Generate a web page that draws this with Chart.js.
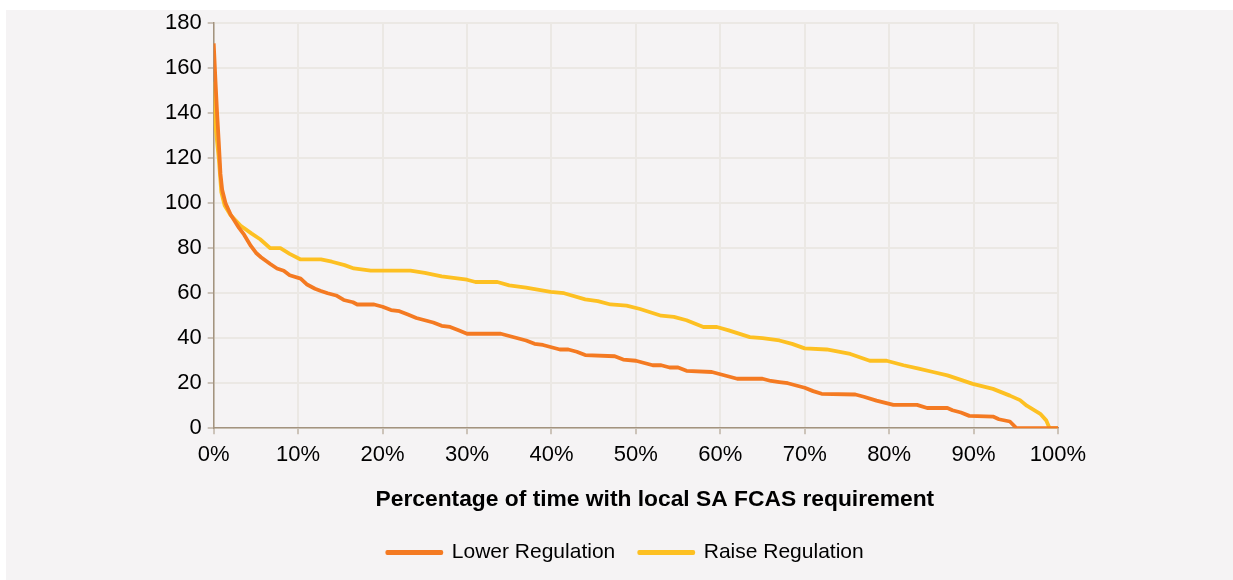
<!DOCTYPE html>
<html>
<head>
<meta charset="utf-8">
<script src="https://cdn.jsdelivr.net/npm/chart.js@4.4.0/dist/chart.umd.min.js"></script>
<style>
  body { margin: 0; background: #ffffff; }
  #panel { position: absolute; left: 6px; top: 10px; width: 1227px; height: 570px; background: #f5f3f4; }
  #chart { position: absolute; left: 6px; top: 4px; }
</style>
</head>
<body>
<div id="panel"></div>
<canvas id="chart" width="1227" height="576"></canvas>
<script>
// percentage of time (x) and MW requirement (y)
const lowerPct = [0, 0.2, 0.4, 0.6, 0.8, 1, 1.4, 2, 2.5, 3, 3.6, 4.4, 5, 5.6, 6.7, 7.5, 8.3, 9, 10.3, 11, 12, 12.7, 13.5, 14.5, 15.4, 16.5, 17, 19, 20, 21, 22, 23, 24, 25, 26, 27, 28, 29, 30, 34, 35, 36, 37, 38, 39, 40, 41, 42, 43, 44, 47.5, 48.5, 50, 51, 52, 53, 54, 55, 56, 59, 60, 61, 62, 65, 66, 67, 68, 69, 70, 71, 72, 76, 77, 78.5, 80.5, 83.3, 84.5, 86.9, 87.5, 88.5, 89.5, 92.3, 93, 94.3, 95.1, 100];
const lowerVal = [171, 155, 140, 127, 113, 106, 100, 95, 92, 89, 86, 81, 78, 76, 73, 71, 70, 68, 66.5, 64, 62, 61, 60, 59, 57, 56, 55, 55, 54, 52.5, 52, 50.5, 49, 48, 47, 45.5, 45, 43.5, 42, 42, 41, 40, 39, 37.5, 37, 36, 35, 35, 34, 32.5, 32, 30.5, 30, 29, 28, 28, 27, 27, 25.5, 25, 24, 23, 22, 22, 21, 20.5, 20, 19, 18, 16.5, 15.3, 15, 14, 12.3, 10.4, 10.4, 9, 9, 8, 7, 5.5, 5.2, 4, 3, 0, 0];

const raisePct = [0, 0.2, 0.6, 0.9, 1.3, 2, 3.2, 4.5, 5.5, 6.7, 7.9, 9, 10.3, 12.7, 14, 15.5, 16.6, 18.6, 23.3, 25, 27, 30, 31, 33.6, 35, 37, 39.9, 41.5, 44, 45.5, 47, 48.9, 50.5, 53, 54.5, 56, 58, 59.6, 61, 63.5, 65, 67, 68.5, 70, 72.6, 74, 75.4, 77.7, 79.7, 81.7, 83.5, 85.2, 86.9, 88.5, 89.9, 92.3, 94.3, 95.5, 96.3, 97.9, 98.6, 99, 100];
const raiseVal = [154, 135, 120, 105, 99, 94.7, 90, 86.5, 84, 80, 80, 77.5, 75, 75, 74, 72.5, 71, 70, 70, 69, 67.5, 66, 65, 65, 63.5, 62.5, 60.6, 60, 57.3, 56.5, 55, 54.5, 53, 50, 49.5, 48, 45, 45, 43.5, 40.5, 40, 39, 37.5, 35.5, 35, 34, 33, 30, 30, 28, 26.5, 25, 23.5, 21.5, 19.7, 17.5, 14.5, 12.5, 10, 6.4, 3.5, 0, 0];

const seriesNames = ['Lower Regulation', 'Raise Regulation'];
const seriesColors = ['#f47a22', '#fdc022'];
const yTicks = [0, 20, 40, 60, 80, 100, 120, 140, 160, 180];
const xTicks = [0, 10, 20, 30, 40, 50, 60, 70, 80, 90, 100];
const xTitle = 'Percentage of time with local SA FCAS requirement';

const toPoints = (xs, ys) => xs.map((x, i) => ({ x: x, y: ys[i] }));

const axisColor = '#a3937f';
const gridColor = '#ebe8e4';
const family = "'Liberation Sans', Arial, sans-serif";

// the original legend sits a bit right of where chart.js centres it
const shiftLegend = {
  id: 'shiftLegend',
  afterLayout(chart) {
    chart.legend.left += 17;
    chart.legend.right += 17;
  }
};

new Chart(document.getElementById('chart'), {
  type: 'line',
  data: {
    datasets: [
      { label: seriesNames[0], data: toPoints(lowerPct, lowerVal), borderColor: seriesColors[0], backgroundColor: seriesColors[0] },
      { label: seriesNames[1], data: toPoints(raisePct, raiseVal), borderColor: seriesColors[1], backgroundColor: seriesColors[1] }
    ]
  },
  plugins: [shiftLegend],
  options: {
    responsive: false,
    animation: false,
    layout: { padding: { left: 153, right: 175, top: 6, bottom: 7 } },
    elements: {
      line: { borderWidth: 3.8, tension: 0, borderJoinStyle: 'round' },
      point: { radius: 0 }
    },
    scales: {
      x: {
        type: 'linear',
        min: 0, max: 100,
        afterBuildTicks: s => { s.ticks = xTicks.map(v => ({ value: v })); },
        ticks: { callback: v => v + '%', color: '#000', font: { family: family, size: 22 }, padding: 7, maxRotation: 0 },
        grid: { color: gridColor, lineWidth: 2, tickColor: axisColor, tickLength: 6, tickWidth: 1 },
        border: { color: axisColor, width: 1.5 },
        title: {
          display: true,
          // leading spaces push the title right, like the original
          text: '\u00a0\u00a0\u00a0\u00a0\u00a0\u00a0' + xTitle,
          color: '#000',
          font: { family: family, size: 22.8, weight: 'bold' },
          padding: { top: 11, bottom: 5 }
        }
      },
      y: {
        min: 0, max: 180,
        afterBuildTicks: s => { s.ticks = yTicks.map(v => ({ value: v })); },
        ticks: { color: '#000', font: { family: family, size: 22 }, padding: 6 },
        grid: { color: gridColor, lineWidth: 2, tickColor: axisColor, tickLength: 6, tickWidth: 1 },
        border: { color: axisColor, width: 1.5 }
      }
    },
    plugins: {
      tooltip: { enabled: false },
      legend: {
        position: 'bottom',
        labels: { color: '#000', font: { family: family, size: 21 }, boxWidth: 54, boxHeight: 1, padding: 24 }
      }
    }
  }
});
</script>
</body>
</html>
